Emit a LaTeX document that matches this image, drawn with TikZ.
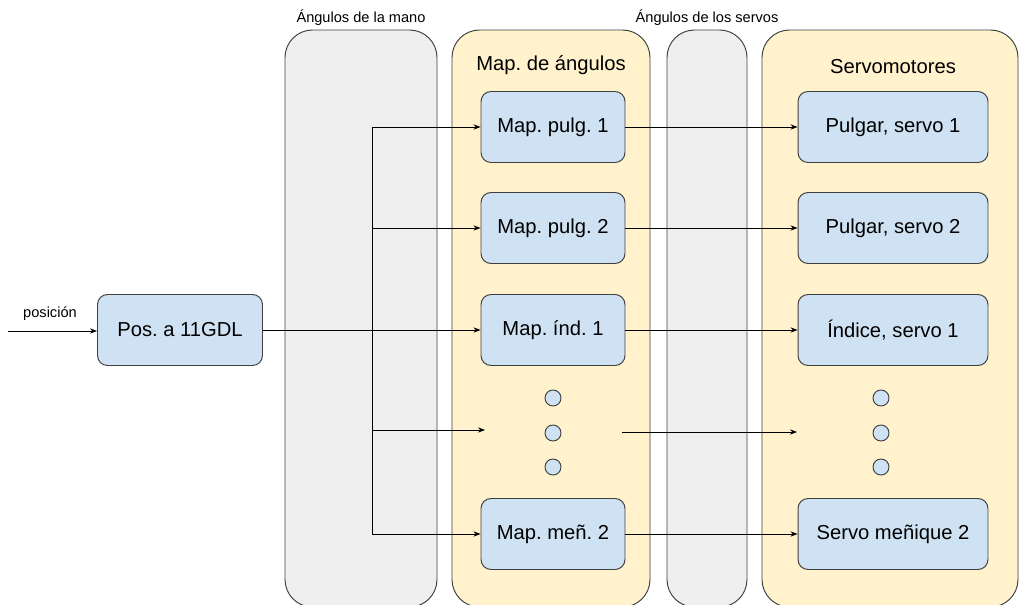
\documentclass[tikz,border=0pt]{standalone}
\usepackage{fontspec}
\setmainfont{Liberation Sans}
\usetikzlibrary{arrows.meta}

\definecolor{panelgray}{HTML}{EFEFEF}
\definecolor{panelyellow}{HTML}{FFF2CC}
\definecolor{boxblue}{HTML}{CFE2F3}
\definecolor{edgegray}{HTML}{404040}

\begin{document}
\frenchspacing
\begin{tikzpicture}[x=0.02cm,y=-0.02cm,
    panel/.style={draw=edgegray, line width=0.55pt, rounded corners=0.55cm},
    blk/.style={draw=edgegray, fill=boxblue, line width=0.55pt, rounded corners=0.2cm,
      minimum height=1.42cm, inner sep=0pt, font=\fontsize{11.5}{13}\selectfont},
    dot/.style={circle, draw=edgegray, fill=boxblue, line width=0.55pt, minimum size=0.32cm, inner sep=0pt},
    lbl/.style={font=\fontsize{8.3}{10}\selectfont},
    ttl/.style={font=\fontsize{11.5}{13}\selectfont},
    arr/.style={-{Stealth[length=4pt,width=3pt]}, line width=0.5pt}]
  \useasboundingbox (0,0) rectangle (1019,605);
  % Background columns
  \path[panel, fill=panelgray] (285,30) rectangle (437,607);
  \path[panel, fill=panelyellow] (452,30) rectangle (650,607);
  \path[panel, fill=panelgray] (667,30) rectangle (747,607);
  \path[panel, fill=panelyellow] (762,30) rectangle (1018,607);
  % Column titles
  \node[lbl] (lblmano) at (361,18) {Ángulos de la mano};
  \node[lbl] (lblservos) at (707,18) {Ángulos de los servos};
  \node[ttl] (titmap) at (551,65) {Map. de ángulos};
  \node[ttl] (titservo) at (893,67) {Servomotores};
  % Input block
  \node[blk, minimum width=3.3cm] (pos) at (180,330) {Pos. a 11GDL};
  \coordinate (in) at (8,331);
  \draw[arr] (in) -- (pos.west |- in);
  \node[lbl] (lblpos) at (50,314) {posición};
  % Angle mapping blocks
  \node[blk, minimum width=2.88cm] (mp1) at (553,127) {Map. pulg. 1};
  \node[blk, minimum width=2.88cm] (mp2) at (553,228) {Map. pulg. 2};
  \node[blk, minimum width=2.88cm] (mp3) at (553,330) {Map. índ. 1};
  \node[blk, minimum width=2.88cm] (mp4) at (553,534) {Map. meñ. 2};
  % Servo blocks
  \node[blk, minimum width=3.8cm] (sv1) at (893,127) {Pulgar, servo 1};
  \node[blk, minimum width=3.8cm] (sv2) at (893,228) {Pulgar, servo 2};
  \node[blk, minimum width=3.8cm] (sv3) at (893,330) {Índice, servo 1};
  \node[blk, minimum width=3.8cm] (sv4) at (893,534) {Servo meñique 2};
  % Dots
  \foreach \y [count=\i] in {398,433,467} {
    \node[dot] (md\i) at (553,\y) {};
    \node[dot] (sd\i) at (881,\y) {};
  }
  % Branching from the input block
  \coordinate (split) at (372,330);
  \draw[line width=0.5pt] (pos) -- (split);
  \foreach \n in {mp1,mp2,mp3,mp4}
    \draw[arr] (split) |- (\n);
  \coordinate (mdin) at (485,430);
  \draw[arr] (split) |- (mdin);
  % Mapping to servos
  \foreach \i in {1,...,4}
    \draw[arr] (mp\i) -- (sv\i);
  \coordinate (mdout) at (622,432);
  \coordinate (sdin) at (797,432);
  \draw[arr] (mdout) -- (sdin);
\end{tikzpicture}
\end{document}
